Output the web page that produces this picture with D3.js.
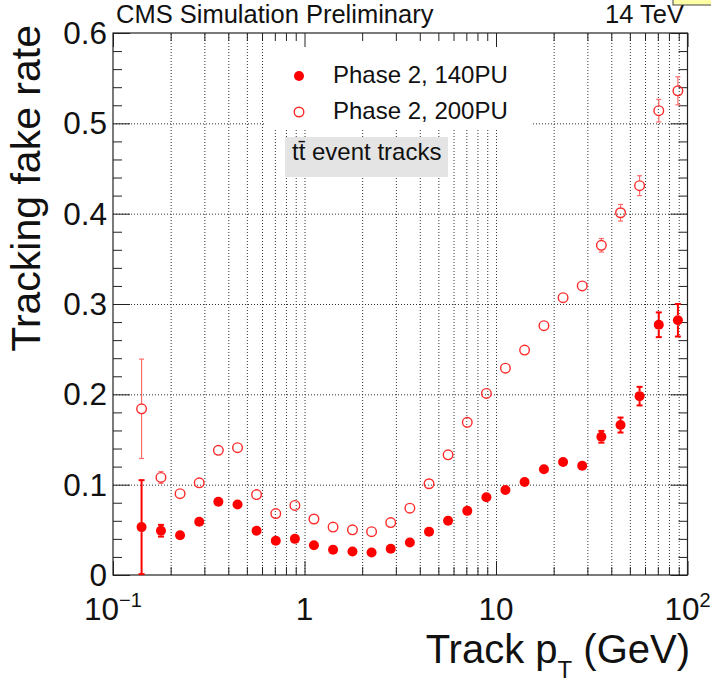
<!DOCTYPE html>
<html>
<head>
<meta charset="utf-8">
<script src="https://cdn.jsdelivr.net/npm/d3@7"></script>
<style>
  body { margin: 0; background: #fff; }
  svg { display: block; }
  text { font-family: "Liberation Sans", Arial, Helvetica, sans-serif; fill: #111; }
</style>
</head>
<body>
<svg id="chart" width="711" height="684"></svg>
<script>
// Track pT bin centres (GeV)
const ptBins = [0.141, 0.178, 0.224, 0.282, 0.355, 0.447, 0.562, 0.708, 0.891,
                1.12, 1.41, 1.78, 2.24, 2.82, 3.55, 4.47, 5.62, 7.08, 8.91,
                11.2, 14.1, 17.8, 22.4, 28.2, 35.5, 44.7, 56.2, 70.8, 89.1];

// Phase 2, 140 pileup: fake rate and its uncertainty
const fake140 = [0.053, 0.049, 0.044, 0.059, 0.081, 0.078, 0.049, 0.038, 0.040,
                 0.033, 0.028, 0.026, 0.025, 0.029, 0.036, 0.048, 0.060, 0.071, 0.086,
                 0.094, 0.103, 0.117, 0.125, 0.121, 0.153, 0.166, 0.198, 0.277, 0.282];
const err140  = [0.052, 0.0065, 0.003, 0.003, 0.003, 0.003, 0.002, 0.002, 0.002,
                 0.002, 0.002, 0.002, 0.002, 0.002, 0.002, 0.002, 0.002, 0.002, 0.002,
                 0.002, 0.002, 0.003, 0.003, 0.004, 0.0065, 0.0083, 0.0103, 0.0137, 0.018];

// Phase 2, 200 pileup: fake rate and its uncertainty
const fake200 = [0.184, 0.108, 0.090, 0.102, 0.138, 0.141, 0.089, 0.068, 0.077,
                 0.062, 0.053, 0.050, 0.048, 0.058, 0.074, 0.101, 0.133, 0.169, 0.201,
                 0.229, 0.249, 0.276, 0.307, 0.320, 0.365, 0.401, 0.431, 0.514, 0.536];
const err200  = [0.055, 0.0065, 0.003, 0.003, 0.003, 0.003, 0.003, 0.002, 0.002,
                 0.002, 0.002, 0.002, 0.002, 0.002, 0.002, 0.002, 0.002, 0.003, 0.003,
                 0.003, 0.003, 0.003, 0.004, 0.004, 0.0075, 0.0092, 0.011, 0.0125, 0.0155];

const seriesNames = ["Phase 2, 140PU", "Phase 2, 200PU"];

// Axis ticks and labels
const xMajorTicks = [0.1, 1, 10, 100];
const xTickLabels = [["10", "\u22121"], ["1", ""], ["10", ""], ["10", "2"]];
const yMajorTicks = [0, 0.1, 0.2, 0.3, 0.4, 0.5, 0.6];
const yTickLabels = ["0", "0.1", "0.2", "0.3", "0.4", "0.5", "0.6"];

const W = 711, H = 684;
const frame = { left: 113, right: 687.5, top: 33, bottom: 575 };
const RED = "#ff0000";

const x = d3.scaleLog().domain([0.1, 100]).range([frame.left, frame.right]);
const y = d3.scaleLinear().domain([0, 0.6]).range([frame.bottom, frame.top]);

const xMinorTicks = x.ticks().filter(v => !xMajorTicks.some(m => Math.abs(m - v) / m < 1e-6));
const yMinorTicks = y.ticks(30).filter(v => !yMajorTicks.some(m => Math.abs(m - v) < 1e-6));

const svg = d3.select("#chart");
svg.append("rect").attr("width", W).attr("height", H).attr("fill", "#fff");

// ---- dotted grid ----
const gridX = svg.append("g")
  .attr("transform", `translate(0,${frame.bottom})`)
  .call(d3.axisBottom(x)
    .tickValues(xMajorTicks.concat(xMinorTicks).filter(v => v > 0.1 && v < 100))
    .tickSize(-(frame.bottom - frame.top)).tickFormat(""));
gridX.select(".domain").remove();
gridX.selectAll("line").attr("stroke", "#333").attr("stroke-width", 1)
  .attr("stroke-dasharray", "1,2");

const gridY = svg.append("g")
  .attr("transform", `translate(${frame.left},0)`)
  .call(d3.axisLeft(y)
    .tickValues(yMajorTicks.filter(v => v > 0 && v < 0.6))
    .tickSize(-(frame.right - frame.left)).tickFormat(""));
gridY.select(".domain").remove();
gridY.selectAll("line").attr("stroke", "#333").attr("stroke-width", 1)
  .attr("stroke-dasharray", "1,2");

// legend background (covers the grid)
svg.append("rect").attr("x", 264).attr("y", 34).attr("width", 268).attr("height", 96)
  .attr("fill", "#fff");

// ---- frame and tick marks ----
function tickAxis(axis, transform, values, size) {
  const g = svg.append("g").attr("transform", transform)
    .call(axis.tickValues(values).tickSize(size).tickFormat(""));
  g.select(".domain").remove();
  g.selectAll("line").attr("stroke", "#222").attr("stroke-width", 1);
  return g;
}
tickAxis(d3.axisBottom(x), `translate(0,${frame.bottom})`, xMajorTicks, -14);
tickAxis(d3.axisBottom(x), `translate(0,${frame.bottom})`, xMinorTicks, -8);
tickAxis(d3.axisTop(x), `translate(0,${frame.top})`, xMajorTicks, -14);
tickAxis(d3.axisTop(x), `translate(0,${frame.top})`, xMinorTicks, -8);
tickAxis(d3.axisLeft(y), `translate(${frame.left},0)`, yMajorTicks, -17);
tickAxis(d3.axisLeft(y), `translate(${frame.left},0)`, yMinorTicks, -9);
tickAxis(d3.axisRight(y), `translate(${frame.right},0)`, yMajorTicks, -17);
tickAxis(d3.axisRight(y), `translate(${frame.right},0)`, yMinorTicks, -9);

svg.append("rect")
  .attr("x", frame.left).attr("y", frame.top)
  .attr("width", frame.right - frame.left).attr("height", frame.bottom - frame.top)
  .attr("fill", "none").attr("stroke", "#222").attr("stroke-width", 1.2);

// ---- tick labels ----
svg.append("g").selectAll("text").data(yMajorTicks).join("text")
  .attr("x", 107).attr("y", d => y(d) + 11)
  .attr("text-anchor", "end").attr("font-size", 31.5)
  .text((d, i) => yTickLabels[i]);

const xl = svg.append("g").selectAll("text").data(xMajorTicks).join("text")
  .attr("x", d => x(d)).attr("y", 620)
  .attr("text-anchor", "middle").attr("font-size", 31.5);
xl.append("tspan").text((d, i) => xTickLabels[i][0]);
xl.filter((d, i) => xTickLabels[i][1] !== "").append("tspan")
  .attr("font-size", 20).attr("dy", -13)
  .text((d, i) => xTickLabels[xMajorTicks.indexOf(d)][1]);

// ---- axis titles ----
svg.append("text")
  .attr("transform", "translate(40,25) rotate(-90)")
  .attr("text-anchor", "end").attr("font-size", 41)
  .text("Tracking fake rate");

const xt = svg.append("text").attr("x", 690).attr("y", 663)
  .attr("text-anchor", "end").attr("font-size", 40);
xt.append("tspan").text("Track p");
xt.append("tspan").attr("font-size", 24).attr("dy", 15).text("T");
xt.append("tspan").attr("dy", -15).text(" (GeV)");

// ---- header texts ----
svg.append("text").attr("x", 116).attr("y", 23).attr("font-size", 25.5)
  .text("CMS Simulation Preliminary");
svg.append("text").attr("x", 684).attr("y", 23).attr("font-size", 25.5)
  .attr("text-anchor", "end").text("14 TeV");
svg.append("rect").attr("x", 673).attr("y", -2).attr("width", 40).attr("height", 7)
  .attr("fill", "#ffffa8").attr("stroke", "#444").attr("stroke-width", 1);

// ---- data: error bars and markers ----
function drawSeries(vals, errs, opts) {
  const g = svg.append("g");
  const pts = ptBins.map((p, i) => ({ p, v: vals[i], e: errs[i] }));
  const r = opts.r;
  pts.forEach(d => {
    const cx = x(d.p), cy = y(d.v);
    const yTop = y(Math.min(d.v + d.e, 0.6));
    const yBot = y(Math.max(d.v - d.e, 0));
    if (cy - yTop > r) {
      g.append("line").attr("x1", cx).attr("x2", cx).attr("y1", yTop).attr("y2", cy - r)
        .attr("stroke", opts.errColor).attr("stroke-width", opts.errWidth);
      g.append("line").attr("x1", cx - opts.cap).attr("x2", cx + opts.cap)
        .attr("y1", yTop).attr("y2", yTop)
        .attr("stroke", opts.errColor).attr("stroke-width", opts.errWidth);
    }
    if (yBot - cy > r) {
      g.append("line").attr("x1", cx).attr("x2", cx).attr("y1", cy + r).attr("y2", yBot)
        .attr("stroke", opts.errColor).attr("stroke-width", opts.errWidth);
      g.append("line").attr("x1", cx - opts.cap).attr("x2", cx + opts.cap)
        .attr("y1", yBot).attr("y2", yBot)
        .attr("stroke", opts.errColor).attr("stroke-width", opts.errWidth);
    }
  });
  g.selectAll("circle").data(pts).join("circle")
    .attr("cx", d => x(d.p)).attr("cy", d => y(d.v)).attr("r", opts.filled ? r : r - 0.2)
    .attr("fill", opts.filled ? RED : "none")
    .attr("stroke", opts.filled ? "none" : opts.markColor)
    .attr("stroke-width", 1.4);
}

drawSeries(fake200, err200, { filled: false, r: 5, cap: 2.5, errColor: "#ff6a6a",
  errWidth: 1.2, markColor: "#ff2a2a" });
drawSeries(fake140, err140, { filled: true, r: 5, cap: 3, errColor: RED,
  errWidth: 2, markColor: RED });

// ---- legend ----
svg.append("circle").attr("cx", 299).attr("cy", 76).attr("r", 5).attr("fill", RED);
svg.append("circle").attr("cx", 299).attr("cy", 112).attr("r", 4.8).attr("fill", "none")
  .attr("stroke", "#ff2a2a").attr("stroke-width", 1.4);
svg.append("text").attr("x", 333).attr("y", 83).attr("font-size", 24).text(seriesNames[0]);
svg.append("text").attr("x", 333).attr("y", 119).attr("font-size", 24).text(seriesNames[1]);

svg.append("rect").attr("x", 285).attr("y", 137).attr("width", 163).attr("height", 40)
  .attr("fill", "#e4e4e4");
svg.append("text").attr("x", 292).attr("y", 160).attr("font-size", 24)
  .text("tt\u0304 event tracks");
</script>
</body>
</html>
